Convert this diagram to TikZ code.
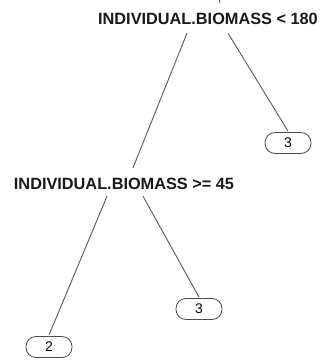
\documentclass[tikz,border=0pt]{standalone}
\usepackage{fontspec}
\setmainfont{Liberation Sans}
\begin{document}
\begin{tikzpicture}[x=1pt,y=-1pt,
  splitlabel/.style={font=\bfseries\fontsize{16.3}{18}\selectfont, inner sep=0pt,
    text height=12pt, text depth=0pt, text=black!90},
  leaf/.style={draw=black!70, line width=0.8pt, rounded corners=10pt,
    minimum width=46pt, minimum height=21pt, inner sep=0pt,
    font=\fontsize{14}{16}\selectfont},
  edge/.style={draw=black!65, line width=0.9pt}]
\useasboundingbox (0,0) rectangle (323,364);

% split conditions
\node[splitlabel] (r) at (208,18) {INDIVIDUAL.BIOMASS < 180};
\node[splitlabel] (s) at (124,183) {INDIVIDUAL.BIOMASS >= 45};

% terminal nodes
\node[leaf] (l1) at (288,143) {3};
\node[leaf] (l2) at (199,309) {3};
\node[leaf] (l3) at (49,347) {2};

% branch from the parent above
\coordinate (up) at (219,-2);
\draw[edge] (up) -- ([xshift=11pt,yshift=9pt]r.north);

% branches
\draw[edge] ([xshift=-21pt,yshift=-9pt]r.south) -- ([xshift=9pt,yshift=9pt]s.north);
\draw[edge] ([xshift=20pt,yshift=-9pt]r.south) -- ([yshift=1pt]l1.north);
\draw[edge] ([xshift=-17pt,yshift=-7pt]s.south) -- ([yshift=1pt]l3.north);
\draw[edge] ([xshift=19pt,yshift=-7pt]s.south) -- ([yshift=1pt]l2.north);
\end{tikzpicture}
\end{document}
